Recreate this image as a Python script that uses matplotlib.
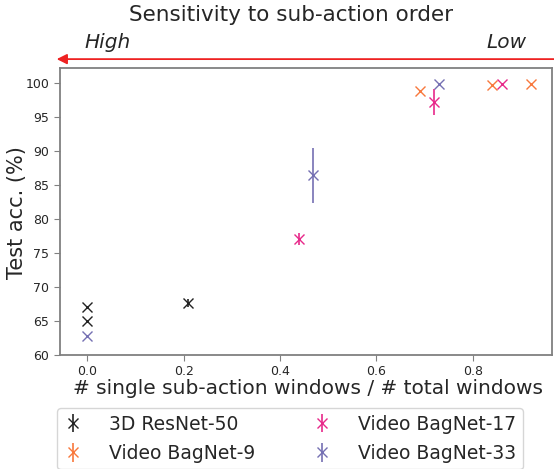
import matplotlib.pyplot as plt
import numpy as np

# data
models = ['3D ResNet-50', 'Video BagNet-9', 'Video BagNet-17', 'Video BagNet-33']
colors = ['#222222', '#f8783c', '#e7298a', '#7570b3']

x_vals = {
    '3D ResNet-50': [0.0, 0.0, 0.208],
    'Video BagNet-9': [0.690, 0.839, 0.920],
    'Video BagNet-17': [0.439, 0.719, 0.860],
    'Video BagNet-33': [0.0, 0.469, 0.730],
}
acc = {
    '3D ResNet-50': [67.1, 65.0, 67.7],
    'Video BagNet-9': [98.8, 99.75, 99.85],
    'Video BagNet-17': [77.1, 97.2, 99.8],
    'Video BagNet-33': [62.8, 86.4, 99.8],
}
err = {
    '3D ResNet-50': [0.0, 0.0, 0.6],
    'Video BagNet-9': [0.0, 0.0, 0.0],
    'Video BagNet-17': [0.9, 1.85, 0.0],
    'Video BagNet-33': [0.0, 4.0, 0.0],
}

fig = plt.figure(figsize=(5.54, 4.69), dpi=100)
ax = fig.add_axes([0.108, 0.243, 0.888, 0.612])

for m, c in zip(models, colors):
    ax.errorbar(x_vals[m], acc[m], yerr=err[m], fmt='x', color=c,
                markersize=7, markeredgewidth=1.0, elinewidth=1.2,
                capsize=0, label=m)

ax.set_ylim(60, 102.2)
ax.set_xlim(-0.057, 0.964)
ax.set_xticks([0.0, 0.2, 0.4, 0.6, 0.8])
ax.set_yticks(np.arange(60, 101, 5))
ax.tick_params(labelsize=9, colors='#262626', length=4)
for s in ax.spines.values():
    s.set_color('#808080')
    s.set_linewidth(1.3)
ax.tick_params(color='#808080')

ax.set_xlabel('# single sub-action windows / # total windows', fontsize=14.5,
              color='#262626')
ax.xaxis.set_label_coords(0.504, -0.083)
ax.set_ylabel('Test acc. (%)', fontsize=15, color='#262626')
ax.yaxis.set_label_coords(-0.067, 0.498)
fig.text(0.525, 0.968, 'Sensitivity to sub-action order', fontsize=15.5,
         ha='center', va='center', color='#262626')

# direction arrow above the plot
ax.annotate('', xy=(-0.012, 1.031), xycoords='axes fraction',
            xytext=(1.02, 1.031), textcoords='axes fraction',
            arrowprops=dict(arrowstyle='-|>', color='#ee2222', lw=1.3,
                            mutation_scale=15),
            annotation_clip=False)
fig.text(0.153, 0.910, 'High', fontsize=14.5, style='italic', color='#262626',
         va='center')
fig.text(0.878, 0.910, 'Low', fontsize=14.5, style='italic', color='#262626',
         va='center')

fig.legend(loc='upper left', bbox_to_anchor=(57 / 554, 1 - 408 / 469),
           borderaxespad=0, ncol=2, fontsize=13.5, frameon=True,
           handlelength=1.0, handletextpad=1.4, columnspacing=3.1,
           borderpad=0.35, labelspacing=0.55, labelcolor='#262626',
           edgecolor='#cccccc', fancybox=True)

fig.savefig('out.png', dpi=100)
